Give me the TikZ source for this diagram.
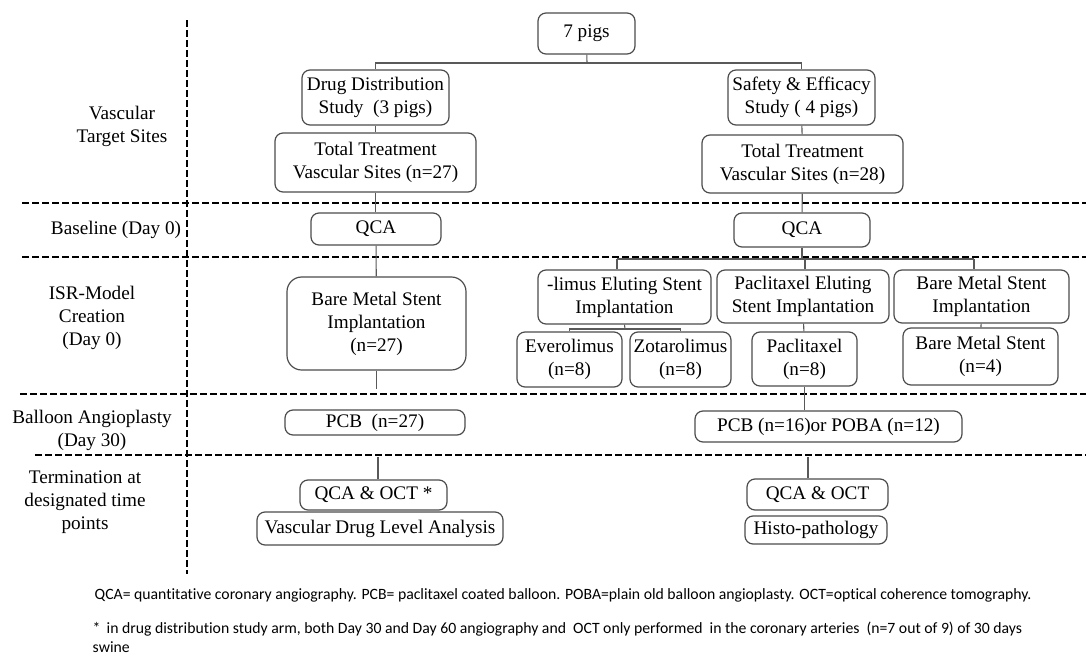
\documentclass[tikz,border=0pt]{standalone}
\usepackage{fontspec}
\setmainfont{Liberation Serif}
\newfontfamily\notefont{Carlito}[Ligatures=NoCommon]
\usetikzlibrary{positioning}

\begin{document}
\begin{tikzpicture}
                [x=0.75pt, y=-0.75pt,
                 box/.style = {draw=black!70, line width=0.9pt, rounded corners=6pt, align=center, inner sep=1pt, font=\fontsize{14.4}{17.25}\selectfont},
                 sz/.style 2 args = {minimum width=#1*0.75pt, minimum height=#2*0.75pt},
                 phase/.style = {align=center, font=\fontsize{14.4}{17.25}\selectfont},
                 sep/.style = {dash pattern=on 5.25pt off 2.25pt, line width=1.6pt},
                 link/.style = {draw=black!65, line width=0.8pt},
                 note/.style = {align=left, font=\notefont\fontsize{11.8}{14.6}\selectfont}]
                \useasboundingbox (0,0) rectangle (1086,657);
                % Phase grid
                \draw[sep] (187,20) -- (187,574);
                \draw[sep] (22,203) -- (1086,203);
                \draw[sep] (22,257) -- (1086,257);
                \draw[sep] (20,394) -- (1086,394);
                \draw[sep] (35,455) -- (1086,455);
                % Phase labels
                \node[phase] (vts) at (122,126) {Vascular\\Target Sites};
                \node[phase] (base) at (116,230) {Baseline (Day 0)};
                \node[phase] (isr) at (92,318) {ISR-Model\\Creation\\(Day 0)};
                \node[phase] (balloon) at (92,430) {Balloon Angioplasty\\(Day 30)};
                \node[phase] (term) at (85,502) {Termination at\\designated time\\points};
                % Top of the tree
                \node[box, sz={97}{41}] (pigs) at (586.5,33.5) {7 pigs};
                % Drug distribution arm
                \node[box, sz={147}{55}] (dist) at (375.5,97.5) {Drug Distribution\\Study \ (3 pigs)};
                \node[box, sz={201}{59}] (sitesL) at (375.5,162.5) {Total Treatment\\Vascular Sites (n=27)};
                \node[box, sz={130}{32}] (qcaL) at (376,229) {QCA};
                \node[box, sz={179}{93}, rounded corners=11pt] (bmsL) at (376.5,323.5) {Bare Metal Stent\\Implantation\\(n=27)};
                \node[box, sz={180}{25}] (pcbL) at (375,422.5) {PCB \ (n=27)};
                \node[box, sz={147}{30}] (octL) at (373.5,495) {QCA \& OCT *};
                \node[box, sz={246}{33}] (levelL) at (380,528.5) {Vascular Drug Level Analysis};
                % Safety and efficacy arm
                \node[box, sz={147}{55}] (safe) at (801.5,97.5) {Safety \& Efficacy\\Study ( 4 pigs)};
                \node[box, sz={201}{58}] (sitesR) at (802.5,164) {Total Treatment\\Vascular Sites (n=28)};
                \node[box, sz={136}{34}] (qcaR) at (802,230) {QCA};
                \node[box, sz={173}{54}] (limus) at (624.5,297) {-limus Eluting Stent\\Implantation};
                \node[box, sz={172}{53}] (pes) at (803,296.5) {Paclitaxel Eluting\\Stent Implantation};
                \node[box, sz={175}{53}] (bmsR) at (981.5,296.5) {Bare Metal Stent\\Implantation};
                \node[box, sz={105}{55}] (evero) at (569.5,359.5) {Everolimus\\(n=8)};
                \node[box, sz={101}{55}] (zotaro) at (680.5,359.5) {Zotarolimus\\(n=8)};
                \node[box, sz={105}{54}] (pacli) at (804.5,359) {Paclitaxel\\(n=8)};
                \node[box, sz={155}{57}] (bms4) at (980.5,356.5) {Bare Metal Stent\\(n=4)};
                \node[box, sz={267}{31}] (pcbR) at (828.5,426.5) {PCB (n=16)or POBA (n=12)};
                \node[box, sz={141}{31}] (octR) at (817.5,494.5) {QCA \& OCT};
                \node[box, sz={142}{28}] (histo) at (816,530) {Histo-pathology};
                % Free ends of the connectors
                \coordinate (split) at (587,63);
                \coordinate (fork) at (802,259);
                \coordinate (forkL) at (617,259);
                \coordinate (forkM) at (805,259);
                \coordinate (forkR) at (974,259);
                \coordinate (sub) at (625,329);
                \coordinate (endL) at (376.5,389);
                \coordinate (startL) at (378,457);
                \coordinate (startR) at (808,457);
                % Lines
                \draw[link] (pigs) -- (split);
                \draw[link] (dist.north) |- (split) -| (safe.north);
                \draw[link] (dist) -- (sitesL);
                \draw[link] (sitesL.south) -- (sitesL.south |- qcaL.north);
                \draw[link] (qcaL) -- (bmsL);
                \draw[link] (bmsL.south) -- (endL);
                \draw[link] (startL) -- (startL |- octL.north);
                \draw[link] (safe) -- (sitesR);
                \draw[link] (sitesR) -- (qcaR);
                \draw[link] (qcaR) -- (fork);
                \draw[link] (forkL) -- (forkR);
                \draw[link] (forkL) -- (forkL |- limus.north);
                \draw[link] (forkM) -- (forkM |- pes.north);
                \draw[link] (forkR) -- (forkR |- bmsR.north);
                \draw[link] (limus.south) -- (sub);
                \draw[link] (evero.north) |- (sub) -| (zotaro.north);
                \draw[link] (pes) -- (pacli);
                \draw[link] (bmsR) -- (bms4);
                \draw[link] (pacli.south) -- (pacli.south |- pcbR.north);
                \draw[link] (startR) -- (startR |- octR.north);
                % Footnotes
                \node[note, anchor=west] (abbr) at (90,595) {QCA= quantitative coronary angiography. PCB= paclitaxel coated balloon. POBA=plain old balloon angioplasty. OCT=optical coherence tomography.};
                \node[note, anchor=north west] (star) at (88,617) {* \,in drug distribution study arm, both Day 30 and Day 60 angiography and \ OCT only performed \ in the coronary arteries \ (n=7 out of 9) of 30 days\\swine};
            \end{tikzpicture}
\end{document}
